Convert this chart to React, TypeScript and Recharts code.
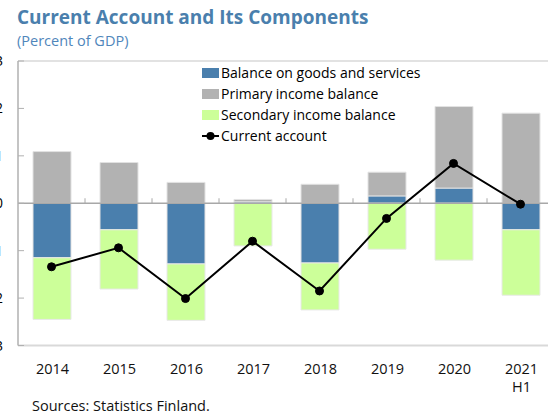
import { ComposedChart, Bar, Line, XAxis, YAxis, ReferenceLine } from 'recharts';

// values (percent of GDP)
const years = ['2014', '2015', '2016', '2017', '2018', '2019', '2020', '2021\nH1'];
const goodsServices = [-1.15, -0.56, -1.28, 0.03, -1.26, 0.155, 0.32, -0.56];
const primaryIncome = [1.09, 0.86, 0.44, 0.05, 0.4, 0.5, 1.72, 1.9];
const secondaryIncome = [-1.3, -1.25, -1.19, -0.9, -0.99, -0.97, -1.2, -1.38];
const currentAccount = [-1.34, -0.94, -2.01, -0.8, -1.85, -0.32, 0.84, -0.02];
const yTicks = [-3, -2, -1, 0, 1, 2, 3];

const BLUE = '#4a7fad';
const GRAY = '#b2b2b2';
const GREEN = '#ccff99';
const FONT = '"Open Sans", "Noto Sans", sans-serif';

const data = years.map((year, i) => ({
  year,
  goods: goodsServices[i],
  primary: primaryIncome[i],
  secondary: secondaryIncome[i],
  current: currentAccount[i],
}));

// y labels sit just off the left edge of the picture, like the cropped original
const YTick = ({ y, payload }: any) => (
  <g>
    <line x1={18} x2={24} y1={y} y2={y} stroke="#b0b0b0" strokeWidth={1} />
    <text x={3} y={y + 5} textAnchor="end" fontSize={14} fill="#000" fontFamily={FONT}>
      {payload.value}
    </text>
  </g>
);

const XTick = ({ x, payload }: any) => {
  const lines = String(payload.value).split('\n');
  return (
    <g>
      {lines.map((t, i) => (
        <text key={i} x={x + 1} y={374 + i * 18} textAnchor="middle" fontSize={14.5} fill="#111" fontFamily={FONT}>
          {t}
        </text>
      ))}
    </g>
  );
};

// zero line with small upward ticks at category boundaries
const ZeroLine = ({ x1, x2, y1 }: any) => {
  const step = (x2 - x1) / years.length;
  return (
    <g>
      <line x1={x1} x2={x2} y1={y1} y2={y1} stroke="#a8a8a8" strokeWidth={1.3} />
      {years.slice(1).map((_, i) => (
        <line key={i} x1={x1 + step * (i + 1)} x2={x1 + step * (i + 1)} y1={y1} y2={y1 - 5} stroke="#a8a8a8" strokeWidth={1} />
      ))}
    </g>
  );
};

const legendItems = [
  { label: 'Balance on goods and services', color: BLUE, kind: 'box' },
  { label: 'Primary income balance', color: GRAY, kind: 'box' },
  { label: 'Secondary income balance', color: GREEN, kind: 'box' },
  { label: 'Current account', color: '#000', kind: 'line' },
];

export default function App() {
  return (
    <div style={{ position: 'absolute', left: 0, top: 0, width: 548, height: 417, overflow: 'hidden', background: '#fff', fontFamily: FONT }}>
      <div style={{ position: 'absolute', left: 17, top: 4, fontSize: 19, fontWeight: 700, color: '#4a7fad', whiteSpace: 'nowrap' }}>
        Current Account and Its Components
      </div>
      <div style={{ position: 'absolute', left: 17, top: 31, fontSize: 14.5, color: '#4f86bb', whiteSpace: 'nowrap' }}>
        (Percent of GDP)
      </div>

      <div style={{ position: 'absolute', left: 0, top: 0 }}>
        <ComposedChart
          width={560}
          height={417}
          data={data}
          stackOffset="sign"
          barSize={38}
          margin={{ top: 61, right: 6, bottom: 0, left: 0 }}
        >
          <XAxis dataKey="year" height={71.5} axisLine={false} tickLine={false} tick={<XTick />} interval={0} />
          <YAxis
            width={18}
            domain={[-3, 3]}
            ticks={yTicks}
            allowDataOverflow
            axisLine={{ stroke: '#b0b0b0', strokeWidth: 1.5 }}
            tickLine={false}
            tick={<YTick />}
          />
          <ReferenceLine y={3} stroke="#d9d9d9" strokeWidth={1.5} />
          <ReferenceLine y={-3} stroke="#d9d9d9" strokeWidth={2} />
          <Bar dataKey="goods" stackId="a" fill={BLUE} stroke="#e2e2e2" strokeWidth={1} isAnimationActive={false} />
          <Bar dataKey="primary" stackId="a" fill={GRAY} stroke="#e2e2e2" strokeWidth={1} isAnimationActive={false} />
          <Bar dataKey="secondary" stackId="a" fill={GREEN} stroke="#e8e8e8" strokeWidth={1} isAnimationActive={false} />
          <ReferenceLine y={0} shape={<ZeroLine />} />
          <Line
            dataKey="current"
            stroke="#000"
            strokeWidth={2}
            dot={{ r: 4, fill: '#000', stroke: '#000', strokeWidth: 1 }}
            isAnimationActive={false}
          />
        </ComposedChart>
      </div>

      <div style={{ position: 'absolute', left: 202, top: 62 }}>
        {legendItems.map((it) => (
          <div key={it.label} style={{ display: 'flex', alignItems: 'center', height: 21, fontSize: 14, color: '#000', whiteSpace: 'nowrap' }}>
            {it.kind === 'box' ? (
              <div style={{ width: 17, height: 10, background: it.color, marginRight: 2 }} />
            ) : (
              <svg width={17} height={10} style={{ marginRight: 2 }}>
                <line x1={0} x2={17} y1={5} y2={5} stroke="#000" strokeWidth={2} />
                <circle cx={8.5} cy={5} r={4} fill="#000" />
              </svg>
            )}
            <span>{it.label}</span>
          </div>
        ))}
      </div>

      <div style={{ position: 'absolute', left: 32, top: 396, fontSize: 14.5, color: '#111', whiteSpace: 'nowrap' }}>
        Sources: Statistics Finland.
      </div>
    </div>
  );
}
